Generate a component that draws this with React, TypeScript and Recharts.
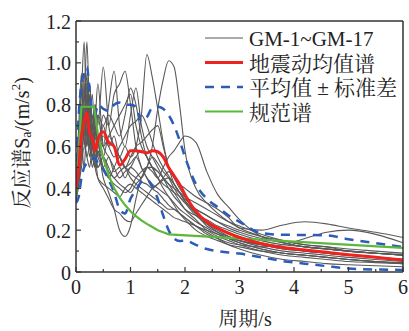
import React from 'react'
import { LineChart, Line, XAxis, YAxis, ReferenceLine } from 'recharts'

// 周期 (s)
const periods = [0, 0.05, 0.1, 0.15, 0.2, 0.25, 0.3, 0.35, 0.4, 0.5, 0.6, 0.7, 0.8, 0.9, 1.0, 1.1, 1.2, 1.3, 1.4, 1.5, 1.6, 1.7, 1.8, 1.9, 2.0, 2.2, 2.4, 2.6, 2.8, 3.0, 3.4, 3.8, 4.2, 4.6, 5.0, 5.5, 6.0]

// GM-1 ~ GM-17 反应谱 (m/s²)
const gm01 = [0.36, 0.45, 0.6, 0.5, 0.7, 0.55, 0.62, 0.5, 0.58, 0.5, 0.55, 0.48, 0.5, 0.45, 0.5, 0.48, 0.45, 0.5, 0.6, 0.78, 0.92, 1.01, 0.98, 0.8, 0.58, 0.4, 0.33, 0.28, 0.24, 0.21, 0.17, 0.14, 0.12, 0.11, 0.1, 0.09, 0.08]
const gm02 = [0.4, 0.55, 0.75, 0.65, 0.9, 0.7, 0.6, 0.75, 0.55, 0.7, 0.6, 0.65, 0.55, 0.6, 0.55, 0.6, 0.75, 1.04, 0.93, 0.78, 0.62, 0.5, 0.45, 0.4, 0.36, 0.28, 0.22, 0.19, 0.17, 0.15, 0.13, 0.11, 0.1, 0.09, 0.08, 0.07, 0.06]
const gm03 = [0.38, 0.5, 0.65, 0.8, 0.6, 0.7, 0.55, 0.6, 0.5, 0.55, 0.48, 0.45, 0.42, 0.4, 0.38, 0.42, 0.45, 0.5, 0.48, 0.45, 0.5, 0.55, 0.58, 0.62, 0.65, 0.62, 0.48, 0.37, 0.31, 0.25, 0.17, 0.14, 0.12, 0.11, 0.1, 0.09, 0.08]
const gm04 = [0.35, 0.42, 0.55, 0.7, 0.85, 0.6, 0.55, 0.5, 0.58, 0.45, 0.38, 0.3, 0.2, 0.17, 0.22, 0.35, 0.45, 0.5, 0.55, 0.52, 0.48, 0.45, 0.4, 0.36, 0.33, 0.27, 0.23, 0.2, 0.17, 0.15, 0.12, 0.1, 0.09, 0.08, 0.07, 0.06, 0.05]
const gm05 = [0.4, 0.6, 0.85, 1.1, 0.7, 0.8, 0.65, 0.7, 0.6, 0.75, 0.7, 0.85, 0.9, 0.96, 0.8, 0.6, 0.5, 0.45, 0.4, 0.38, 0.35, 0.32, 0.3, 0.28, 0.26, 0.22, 0.2, 0.18, 0.16, 0.14, 0.11, 0.09, 0.08, 0.07, 0.06, 0.05, 0.04]
const gm06 = [0.38, 0.55, 0.7, 0.8, 1.1, 0.75, 0.65, 0.8, 0.7, 0.98, 0.7, 0.6, 0.55, 0.5, 0.52, 0.55, 0.5, 0.45, 0.42, 0.4, 0.38, 0.36, 0.33, 0.3, 0.28, 0.24, 0.21, 0.18, 0.16, 0.15, 0.13, 0.11, 0.1, 0.09, 0.08, 0.07, 0.06]
const gm07 = [0.35, 0.5, 0.9, 0.7, 0.95, 0.65, 0.75, 0.6, 0.65, 0.6, 0.8, 0.96, 0.7, 0.6, 0.75, 0.88, 0.7, 0.6, 0.55, 0.5, 0.45, 0.4, 0.36, 0.33, 0.3, 0.27, 0.25, 0.22, 0.2, 0.18, 0.15, 0.13, 0.12, 0.11, 0.1, 0.09, 0.08]
const gm08 = [0.4, 0.55, 0.7, 0.95, 0.8, 0.9, 0.7, 0.65, 0.75, 0.6, 0.65, 0.7, 0.75, 0.8, 0.85, 0.7, 0.6, 0.55, 0.5, 0.48, 0.45, 0.42, 0.4, 0.38, 0.36, 0.33, 0.3, 0.27, 0.24, 0.22, 0.18, 0.15, 0.13, 0.12, 0.1, 0.09, 0.08]
const gm09 = [0.36, 0.5, 0.65, 0.75, 0.6, 0.85, 0.6, 0.55, 0.5, 0.55, 0.5, 0.45, 0.48, 0.5, 0.47, 0.45, 0.43, 0.42, 0.4, 0.42, 0.45, 0.48, 0.45, 0.42, 0.4, 0.36, 0.33, 0.3, 0.26, 0.21, 0.2, 0.225, 0.24, 0.23, 0.21, 0.19, 0.165]
const gm10 = [0.4, 0.5, 0.7, 0.65, 0.8, 0.6, 0.7, 0.55, 0.6, 0.5, 0.45, 0.5, 0.55, 0.5, 0.45, 0.42, 0.4, 0.38, 0.36, 0.34, 0.32, 0.3, 0.3, 0.28, 0.26, 0.22, 0.18, 0.16, 0.14, 0.13, 0.12, 0.13, 0.16, 0.19, 0.2, 0.18, 0.14]
const gm11 = [0.37, 0.45, 0.6, 0.75, 0.65, 0.7, 0.85, 0.6, 0.55, 0.5, 0.45, 0.42, 0.4, 0.38, 0.4, 0.45, 0.48, 0.5, 0.5, 0.48, 0.45, 0.42, 0.38, 0.34, 0.3, 0.25, 0.2, 0.17, 0.15, 0.13, 0.1, 0.08, 0.07, 0.06, 0.05, 0.045, 0.04]
const gm12 = [0.42, 0.7, 0.95, 0.6, 0.75, 0.65, 0.55, 0.7, 0.9, 0.6, 0.55, 0.5, 0.45, 0.48, 0.5, 0.55, 0.58, 0.55, 0.5, 0.45, 0.4, 0.36, 0.32, 0.28, 0.25, 0.2, 0.17, 0.15, 0.13, 0.12, 0.1, 0.09, 0.08, 0.07, 0.06, 0.05, 0.045]
const gm13 = [0.35, 0.45, 0.55, 0.65, 0.55, 0.6, 0.5, 0.55, 0.45, 0.4, 0.35, 0.3, 0.28, 0.25, 0.24, 0.28, 0.32, 0.36, 0.4, 0.42, 0.44, 0.45, 0.42, 0.38, 0.34, 0.28, 0.23, 0.19, 0.16, 0.14, 0.11, 0.09, 0.08, 0.07, 0.06, 0.05, 0.04]
const gm14 = [0.38, 0.5, 0.8, 0.7, 0.75, 0.9, 0.7, 0.65, 0.6, 0.65, 0.6, 0.55, 0.6, 0.65, 0.7, 0.72, 0.75, 0.7, 0.62, 0.55, 0.5, 0.46, 0.42, 0.38, 0.34, 0.28, 0.24, 0.21, 0.19, 0.17, 0.14, 0.12, 0.1, 0.09, 0.08, 0.07, 0.06]
const gm15 = [0.4, 0.55, 0.65, 0.9, 0.7, 0.6, 0.7, 0.65, 0.75, 0.7, 0.75, 0.7, 0.65, 0.75, 0.88, 0.8, 0.65, 0.55, 0.5, 0.45, 0.42, 0.4, 0.38, 0.36, 0.33, 0.3, 0.27, 0.24, 0.21, 0.19, 0.16, 0.14, 0.12, 0.11, 0.1, 0.09, 0.085]
const gm16 = [0.33, 0.42, 0.5, 0.6, 0.55, 0.5, 0.6, 0.5, 0.45, 0.42, 0.4, 0.38, 0.36, 0.4, 0.42, 0.4, 0.38, 0.36, 0.34, 0.32, 0.3, 0.28, 0.26, 0.25, 0.24, 0.22, 0.19, 0.16, 0.13, 0.11, 0.08, 0.06, 0.05, 0.04, 0.035, 0.03, 0.025]
const gm17 = [0.38, 0.5, 0.7, 0.85, 0.9, 0.7, 0.6, 0.8, 0.65, 0.55, 0.65, 0.6, 0.55, 0.5, 0.55, 0.6, 0.62, 0.65, 0.68, 0.7, 0.6, 0.5, 0.42, 0.38, 0.35, 0.3, 0.27, 0.24, 0.22, 0.2, 0.17, 0.15, 0.13, 0.12, 0.11, 0.1, 0.09]

const gmRecords = [gm01, gm02, gm03, gm04, gm05, gm06, gm07, gm08, gm09, gm10, gm11, gm12, gm13, gm14, gm15, gm16, gm17]

// 地震动均值谱, 平均值 ± 标准差
const meanValues = [0.4, 0.5, 0.65, 0.72, 0.76, 0.66, 0.64, 0.58, 0.63, 0.67, 0.62, 0.6, 0.51, 0.54, 0.58, 0.58, 0.575, 0.57, 0.58, 0.575, 0.55, 0.5, 0.46, 0.42, 0.37, 0.29, 0.24, 0.21, 0.185, 0.165, 0.135, 0.117, 0.105, 0.094, 0.083, 0.07, 0.057]
const plusStd = [0.45, 0.75, 0.9, 0.95, 0.98, 0.87, 0.76, 0.75, 0.8, 0.78, 0.77, 0.8, 0.81, 0.8, 0.8, 0.79, 0.72, 0.74, 0.785, 0.79, 0.78, 0.75, 0.7, 0.63, 0.55, 0.42, 0.35, 0.31, 0.27, 0.24, 0.186, 0.178, 0.177, 0.175, 0.157, 0.138, 0.12]
const minusStd = [0.33, 0.36, 0.45, 0.5, 0.52, 0.53, 0.54, 0.545, 0.52, 0.49, 0.44, 0.38, 0.3, 0.28, 0.35, 0.39, 0.43, 0.44, 0.41, 0.35, 0.27, 0.2, 0.16, 0.148, 0.15, 0.13, 0.11, 0.1, 0.093, 0.088, 0.07, 0.052, 0.04, 0.028, 0.017, 0.012, 0.01]

// 规范谱
const codePeriods = [0, 0.1, 0.33, 0.4, 0.5, 0.6, 0.7, 0.8, 0.9, 1.0, 1.1, 1.2, 1.3, 1.4, 1.5, 1.6, 1.7, 6.0]
const codeValues = [0.36, 0.79, 0.79, 0.665, 0.545, 0.463, 0.4, 0.356, 0.32, 0.29, 0.267, 0.247, 0.23, 0.215, 0.2, 0.19, 0.18, 0.115]

const xTicks = [0, 0.5, 1, 1.5, 2, 2.5, 3, 3.5, 4, 4.5, 5, 5.5, 6]
const yTicks = [0, 0.1, 0.2, 0.3, 0.4, 0.5, 0.6, 0.7, 0.8, 0.9, 1.0, 1.1, 1.2]

const rows = periods.map((t, i) => {
  const row: Record<string, number> = { t, mean: meanValues[i], plus: plusStd[i], minus: minusStd[i] }
  gmRecords.forEach((g, k) => { row[`gm${k + 1}`] = g[i] })
  return row
})
const codeRows = codePeriods.map((t, i) => ({ t, code: codeValues[i] }))

const FONT = '"Liberation Serif", "Times New Roman", "Noto Serif CJK SC", "Noto Sans CJK SC", serif'
const AXIS = '#333'
const GRAY = '#595959'
const RED = '#f0221e'
const BLUE = '#2a5cb8'
const GREEN = '#5cb83c'

const XTick = ({ x, y, payload }: any) => {
  const major = Number.isInteger(payload.value)
  return (
    <g>
      <line x1={x} x2={x} y1={y} y2={y - (major ? 5 : 3)} stroke={AXIS} strokeWidth={1.2} />
      {major && (
        <text x={x} y={y + 22} textAnchor="middle" fontSize={20} fill="#222" fontFamily={FONT}>
          {payload.value}
        </text>
      )}
    </g>
  )
}

const YTick = ({ x, y, payload }: any) => {
  const v = payload.value
  const major = Math.round(v * 10) % 2 === 0
  return (
    <g>
      <line x1={x} x2={x + (major ? 5 : 3)} y1={y} y2={y} stroke={AXIS} strokeWidth={1.2} />
      {major && (
        <text x={x - 5} y={y + 7.5} textAnchor="end" fontSize={20} fill="#222" fontFamily={FONT}>
          {v === 0 ? '0' : v.toFixed(1)}
        </text>
      )}
    </g>
  )
}

const legendItems = [
  { label: 'GM-1~GM-17', color: GRAY, width: 1.2, dash: undefined },
  { label: '地震动均值谱', color: RED, width: 3, dash: undefined },
  { label: '平均值 ± 标准差', color: BLUE, width: 2.5, dash: '9 7' },
  { label: '规范谱', color: GREEN, width: 2.2, dash: undefined },
]

export default function App() {
  return (
    <div style={{ position: 'absolute', left: 0, top: 0, width: 409, height: 331, background: '#fff', fontFamily: FONT }}>
      <LineChart width={409} height={331} data={rows} margin={{ top: 21, right: 6, bottom: 19, left: 0 }}>
        <XAxis
          dataKey="t"
          type="number"
          domain={[0, 6]}
          ticks={xTicks}
          interval={0}
          height={40}
          tickSize={0}
          tickMargin={0}
          tickLine={false}
          tick={<XTick />}
          axisLine={{ stroke: AXIS, strokeWidth: 1.5 }}
          allowDataOverflow
        />
        <YAxis
          type="number"
          domain={[0, 1.2]}
          ticks={yTicks}
          interval={0}
          width={76}
          tickSize={0}
          tickMargin={0}
          tickLine={false}
          tick={<YTick />}
          axisLine={{ stroke: AXIS, strokeWidth: 1.5 }}
          allowDataOverflow
        />
        {gmRecords.map((_, k) => (
          <Line
            key={k}
            dataKey={`gm${k + 1}`}
            type="monotone"
            stroke={GRAY}
            strokeWidth={1.1}
            dot={false}
            isAnimationActive={false}
          />
        ))}
        <Line dataKey="plus" type="monotone" stroke={BLUE} strokeWidth={2.5} strokeDasharray="9 7" dot={false} isAnimationActive={false} />
        <Line dataKey="minus" type="monotone" stroke={BLUE} strokeWidth={2.5} strokeDasharray="9 7" dot={false} isAnimationActive={false} />
        <Line data={codeRows} dataKey="code" type="linear" stroke={GREEN} strokeWidth={2.2} dot={false} isAnimationActive={false} />
        <Line dataKey="mean" type="monotone" stroke={RED} strokeWidth={3} dot={false} isAnimationActive={false} />
        <ReferenceLine y={1.2} stroke={AXIS} strokeWidth={1.5} />
        <ReferenceLine x={6} stroke={AXIS} strokeWidth={1.5} />
      </LineChart>

      <svg width={409} height={331} style={{ position: 'absolute', left: 0, top: 0, pointerEvents: 'none' }}>
        <text
          transform="translate(22,143) rotate(-90)"
          textAnchor="middle"
          dominantBaseline="central"
          fontSize={20}
          fill="#222"
          fontFamily={FONT}
        >
          反应谱S<tspan dy={4} fontSize={14}>a</tspan>
          <tspan dy={-4}>/(m/s</tspan>
          <tspan dy={-7} fontSize={13}>2</tspan>
          <tspan dy={7}>)</tspan>
        </text>
        <text x={245} y={319} textAnchor="middle" dominantBaseline="central" fontSize={20} fill="#222" fontFamily={FONT}>
          周期/s
        </text>
        {legendItems.map((item, i) => {
          const cy = 38 + i * 24.5
          return (
            <g key={item.label}>
              <line x1={205} x2={243} y1={cy} y2={cy} stroke={item.color} strokeWidth={item.width} strokeDasharray={item.dash} />
              <text x={249} y={cy + 1} dominantBaseline="central" fontSize={21} fill="#222" fontFamily={FONT}>
                {item.label}
              </text>
            </g>
          )
        })}
      </svg>
    </div>
  )
}
